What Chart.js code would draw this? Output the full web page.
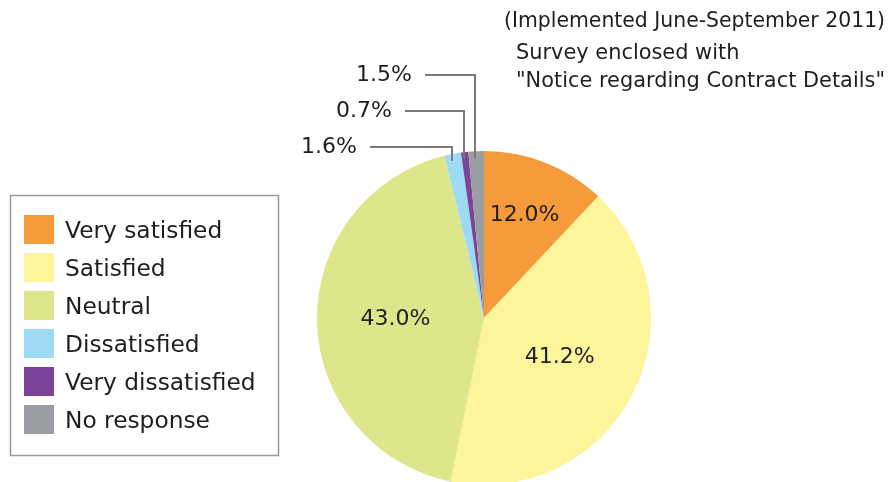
<!DOCTYPE html>
<html>
<head>
<meta charset="utf-8">
<script src="https://cdn.jsdelivr.net/npm/chart.js@4.4.1/dist/chart.umd.min.js"></script>
<style>
    html, body { margin: 0; padding: 0; background: #fff; overflow: hidden; }
    #chartSurvey { display: block; }
</style>
</head>
<body>
<canvas id="chartSurvey" width="889" height="500"></canvas>
<script>
// datos del grafico
const categorias = ['Very satisfied', 'Satisfied', 'Neutral', 'Dissatisfied', 'Very dissatisfied', 'No response'];
const valores = [12.0, 41.2, 43.0, 1.6, 0.7, 1.5];
const colores = ['#f59b3b', '#fdf59b', '#dde68a', '#9fdaf5', '#7b4499', '#9a9ea3'];
const notas = ['(Implemented June-September 2011)', 'Survey enclosed with', '"Notice regarding Contract Details"'];

// etiquetas dentro (indice -> factor de radio) y llamadas externas (indice -> y, x del texto)
const etiquetasDentro = { 0: 0.66, 1: 0.51, 2: 0.53 };
const llamadas = [
    { idx: 5, y: 75, xTexto: 412 },
    { idx: 4, y: 111, xTexto: 392 },
    { idx: 3, y: 147, xTexto: 357 }
];

const fuente = '"DejaVu Sans", sans-serif';

function pct(v) {
    return v.toFixed(1) + '%';
}

const pluginDibujo = {
    id: 'dibujo',
    afterDraw: function (chart) {
        const ctx = chart.ctx;
        const arcos = chart.getDatasetMeta(0).data;
        ctx.save();

        // porcentajes dentro de las porciones
        ctx.fillStyle = '#1e1e1e';
        ctx.font = '22px ' + fuente;
        ctx.textAlign = 'center';
        ctx.textBaseline = 'middle';
        Object.keys(etiquetasDentro).forEach(function (k) {
            const a = arcos[k];
            const ang = (a.startAngle + a.endAngle) / 2;
            const r = a.outerRadius * etiquetasDentro[k];
            ctx.fillText(pct(valores[k]), a.x + Math.cos(ang) * r, a.y + Math.sin(ang) * r);
        });

        // llamadas para porciones chicas
        ctx.strokeStyle = '#7a7a7a';
        ctx.lineWidth = 2;
        ctx.textAlign = 'right';
        llamadas.forEach(function (l) {
            const a = arcos[l.idx];
            const ang = (a.startAngle + a.endAngle) / 2;
            const xs = Math.round(a.x + Math.cos(ang) * a.outerRadius) - 1;
            const ys = a.y + Math.sin(ang) * (a.outerRadius - 7);
            ctx.beginPath();
            ctx.moveTo(l.xTexto + 13, l.y);
            ctx.lineTo(xs, l.y);
            ctx.lineTo(xs, ys);
            ctx.stroke();
            ctx.fillText(pct(valores[l.idx]), l.xTexto, l.y);
        });

        // leyenda
        ctx.strokeStyle = '#9a9a9a';
        ctx.lineWidth = 1.5;
        ctx.strokeRect(10.5, 195.5, 268, 260);
        ctx.textAlign = 'left';
        ctx.font = '23.3px ' + fuente;
        categorias.forEach(function (c, i) {
            const y = 215 + i * 38;
            ctx.fillStyle = colores[i];
            ctx.fillRect(24, y, 30, 29);
            ctx.fillStyle = '#1e1e1e';
            ctx.fillText(c, 65, y + 17);
        });

        // notas arriba a la derecha
        ctx.font = '20.4px ' + fuente;
        ctx.fillText(notas[0], 504, 22);
        ctx.font = '20.9px ' + fuente;
        ctx.fillText(notas[1], 516, 54);
        ctx.fillText(notas[2], 516, 82);

        ctx.restore();
    }
};

new Chart(document.getElementById('chartSurvey').getContext('2d'), {
    type: 'pie',
    data: {
        labels: categorias,
        datasets: [{
            data: valores,
            backgroundColor: colores,
            borderWidth: 0
        }]
    },
    options: {
        responsive: false,
        animation: false,
        layout: {
            padding: { left: 317, right: 238, top: 151, bottom: 15 }
        },
        plugins: {
            legend: { display: false },
            tooltip: { enabled: false }
        }
    },
    plugins: [pluginDibujo]
});
</script>
</body>
</html>
